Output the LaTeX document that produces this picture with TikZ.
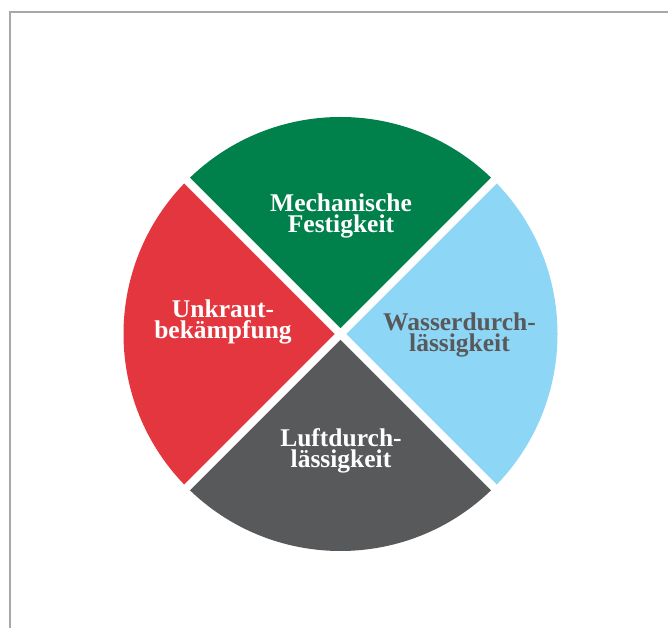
\documentclass[tikz,border=0pt]{standalone}
\usepackage{fontspec}
\setmainfont{Liberation Serif}
\usetikzlibrary{calc}
\definecolor{cgreen}{HTML}{00804A}
\definecolor{cred}{HTML}{E3363E}
\definecolor{cblue}{HTML}{8ED6F5}
\definecolor{cgray}{HTML}{58595B}
\definecolor{cframe}{HTML}{A8A8A8}
\begin{document}
\begin{tikzpicture}[x=1pt,y=1pt,
  lbl/.style={align=center,font=\bfseries\fontsize{25.5}{21.5}\selectfont,inner sep=0pt}]
\useasboundingbox (0,0) rectangle (668,628);
\draw[cframe,line width=1.8pt] (10,0) -- (10,616) -- (668,616);
\coordinate (c) at (340.5,294);
\def\R{217}
\fill[cgreen] (c) -- ++(45:\R) arc[start angle=45,end angle=135,radius=\R] -- cycle;
\fill[cred] (c) -- ++(135:\R) arc[start angle=135,end angle=225,radius=\R] -- cycle;
\fill[cgray] (c) -- ++(225:\R) arc[start angle=225,end angle=315,radius=\R] -- cycle;
\fill[cblue] (c) -- ++(315:\R) arc[start angle=315,end angle=405,radius=\R] -- cycle;
\draw[white,line width=8pt] ($(c)+(45:230)$) -- ($(c)+(225:230)$);
\draw[white,line width=8pt] ($(c)+(135:230)$) -- ($(c)+(315:230)$);
\node[lbl,text=white] (mech) at (341,412) {Mechanische\\Festigkeit};
\node[lbl,text=cgray] (wass) at (459.5,293) {Wasserdurch-\\lässigkeit};
\node[lbl,text=white] (unk) at (223,306) {Unkraut-\\bekämpfung};
\node[lbl,text=white] (luft) at (341,177) {Luftdurch-\\lässigkeit};
\end{tikzpicture}
\end{document}
